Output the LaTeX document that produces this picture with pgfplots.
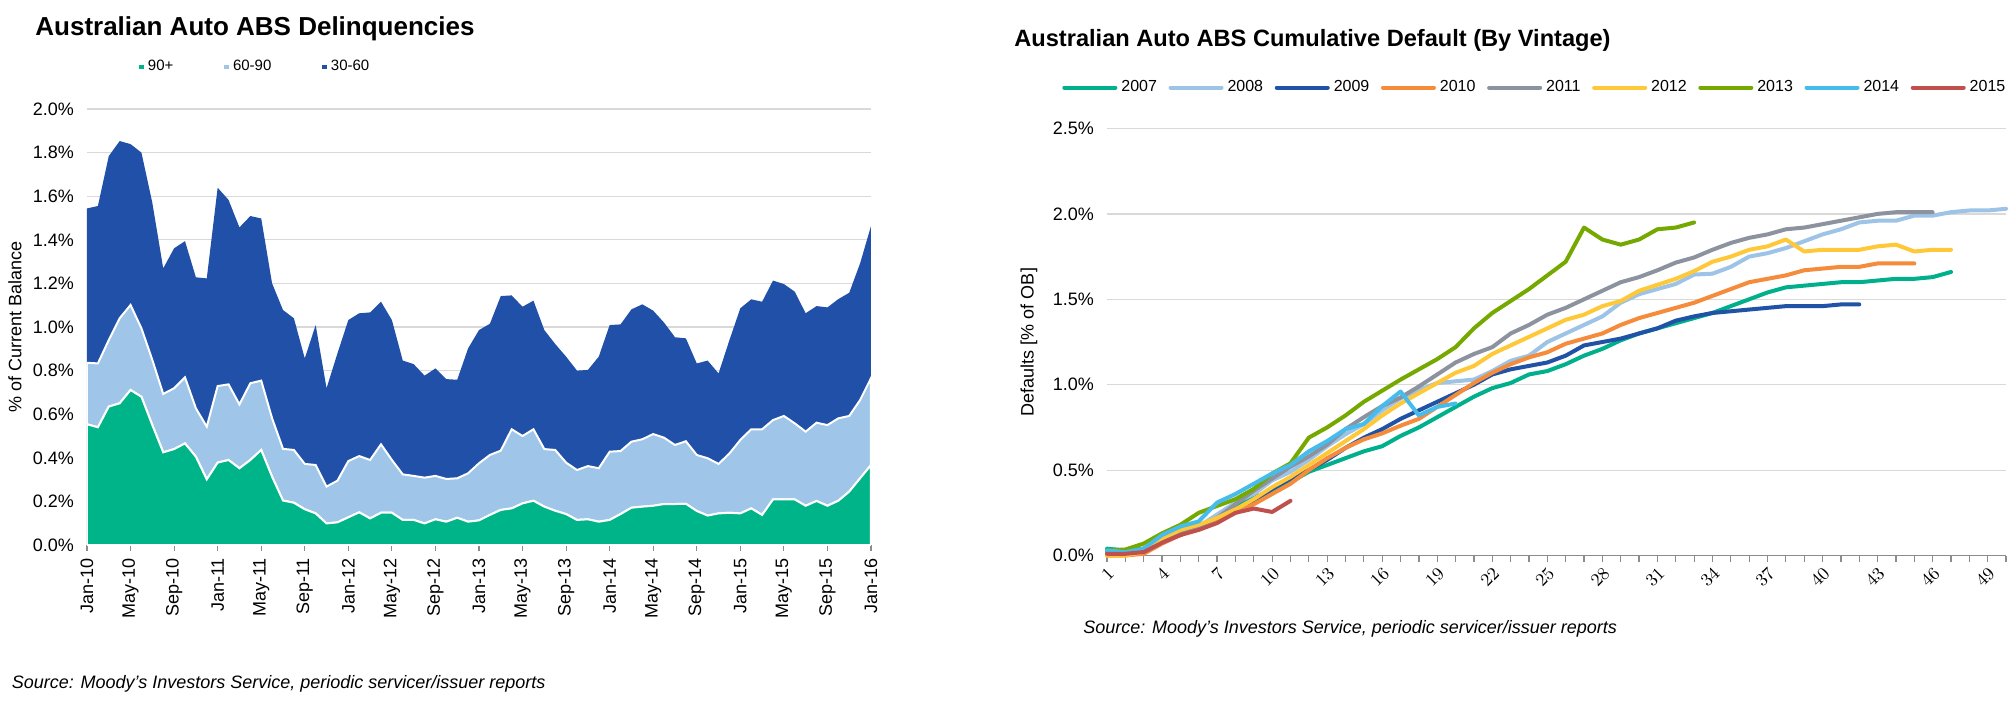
\documentclass[border=0pt]{standalone}
\usepackage{fontspec}
\setmainfont{Liberation Sans}
\usepackage{pgfplots}
\pgfplotsset{compat=1.18}
\usepackage{pgfplotstable}

\definecolor{c90}{HTML}{00B48A}
\definecolor{c60}{HTML}{9FC5E8}
\definecolor{c30}{HTML}{2150A8}
\definecolor{v07}{HTML}{00B08C}
\definecolor{v08}{HTML}{9DC3E6}
\definecolor{v09}{HTML}{2052A5}
\definecolor{v10}{HTML}{F58C3C}
\definecolor{v11}{HTML}{8C929E}
\definecolor{v12}{HTML}{FFC838}
\definecolor{v13}{HTML}{76A900}
\definecolor{v14}{HTML}{45BCEC}
\definecolor{v15}{HTML}{C0504D}

% i  90+  60-90  30-60
\pgfplotstableread{
i g a b
0 0.554 0.282 0.708
1 0.540 0.293 0.722
2 0.635 0.305 0.844
3 0.650 0.390 0.813
4 0.711 0.390 0.738
5 0.680 0.314 0.806
6 0.550 0.299 0.721
7 0.425 0.268 0.576
8 0.440 0.279 0.642
9 0.466 0.303 0.625
10 0.405 0.222 0.601
11 0.301 0.242 0.680
12 0.378 0.351 0.910
13 0.390 0.347 0.846
14 0.352 0.293 0.812
15 0.390 0.352 0.767
16 0.436 0.318 0.744
17 0.313 0.268 0.619
18 0.204 0.237 0.637
19 0.194 0.242 0.604
20 0.164 0.208 0.484
21 0.145 0.222 0.642
22 0.099 0.169 0.451
23 0.104 0.191 0.584
24 0.127 0.258 0.647
25 0.150 0.258 0.655
26 0.122 0.268 0.677
27 0.148 0.314 0.654
28 0.148 0.242 0.642
29 0.115 0.209 0.522
30 0.115 0.202 0.513
31 0.099 0.210 0.468
32 0.118 0.199 0.493
33 0.107 0.196 0.458
34 0.125 0.181 0.452
35 0.107 0.222 0.573
36 0.113 0.262 0.611
37 0.138 0.275 0.602
38 0.161 0.272 0.709
39 0.168 0.363 0.614
40 0.191 0.309 0.593
41 0.203 0.328 0.590
42 0.176 0.264 0.546
43 0.157 0.279 0.486
44 0.142 0.236 0.486
45 0.115 0.229 0.456
46 0.118 0.244 0.441
47 0.107 0.245 0.512
48 0.115 0.313 0.581
49 0.142 0.289 0.581
50 0.171 0.303 0.607
51 0.176 0.309 0.619
52 0.180 0.329 0.566
53 0.188 0.304 0.528
54 0.188 0.271 0.494
55 0.189 0.287 0.472
56 0.156 0.257 0.420
57 0.135 0.263 0.448
58 0.145 0.227 0.415
59 0.148 0.272 0.520
60 0.145 0.337 0.604
61 0.168 0.363 0.596
62 0.138 0.393 0.585
63 0.209 0.364 0.640
64 0.209 0.383 0.605
65 0.209 0.349 0.604
66 0.180 0.340 0.543
67 0.202 0.359 0.535
68 0.180 0.370 0.540
69 0.203 0.378 0.547
70 0.245 0.347 0.565
71 0.306 0.359 0.627
72 0.367 0.398 0.698
}\ldata

\pgfplotstableread{
m v
1 0.04
2 0.03
3 0.04
4 0.10
5 0.13
6 0.17
7 0.22
8 0.29
9 0.34
10 0.38
11 0.43
12 0.49
13 0.53
14 0.57
15 0.61
16 0.64
17 0.70
18 0.75
19 0.81
20 0.87
21 0.93
22 0.98
23 1.01
24 1.06
25 1.08
26 1.12
27 1.17
28 1.21
29 1.26
30 1.30
31 1.33
32 1.36
33 1.39
34 1.42
35 1.46
36 1.50
37 1.54
38 1.57
39 1.58
40 1.59
41 1.60
42 1.60
43 1.61
44 1.62
45 1.62
46 1.63
47 1.66
}\tA

\pgfplotstableread{
m v
1 0.02
2 0.02
3 0.03
4 0.10
5 0.14
6 0.17
7 0.24
8 0.31
9 0.36
10 0.44
11 0.49
12 0.56
13 0.64
14 0.71
15 0.77
16 0.85
17 0.92
18 0.97
19 1.01
20 1.02
21 1.03
22 1.08
23 1.14
24 1.17
25 1.25
26 1.30
27 1.35
28 1.40
29 1.48
30 1.53
31 1.56
32 1.59
33 1.645
34 1.65
35 1.69
36 1.75
37 1.77
38 1.80
39 1.84
40 1.88
41 1.91
42 1.95
43 1.96
44 1.96
45 1.99
46 1.99
47 2.01
48 2.02
49 2.02
50 2.03
}\tB

\pgfplotstableread{
m v
1 0.01
2 0.01
3 0.02
4 0.08
5 0.12
6 0.16
7 0.20
8 0.26
9 0.32
10 0.39
11 0.45
12 0.50
13 0.56
14 0.63
15 0.69
16 0.74
17 0.80
18 0.85
19 0.90
20 0.95
21 1.00
22 1.06
23 1.09
24 1.11
25 1.13
26 1.17
27 1.23
28 1.25
29 1.27
30 1.30
31 1.33
32 1.375
33 1.40
34 1.42
35 1.43
36 1.44
37 1.45
38 1.46
39 1.46
40 1.46
41 1.47
42 1.47
}\tC

\pgfplotstableread{
m v
1 0.00
2 0.00
3 0.01
4 0.07
5 0.12
6 0.16
7 0.20
8 0.25
9 0.30
10 0.36
11 0.42
12 0.50
13 0.57
14 0.63
15 0.68
16 0.715
17 0.76
18 0.80
19 0.87
20 0.94
21 1.01
22 1.07
23 1.12
24 1.16
25 1.19
26 1.24
27 1.27
28 1.30
29 1.35
30 1.39
31 1.42
32 1.45
33 1.48
34 1.52
35 1.56
36 1.60
37 1.62
38 1.64
39 1.67
40 1.68
41 1.69
42 1.69
43 1.71
44 1.71
45 1.71
}\tD

\pgfplotstableread{
m v
1 0.02
2 0.02
3 0.04
4 0.10
5 0.14
6 0.17
7 0.22
8 0.30
9 0.38
10 0.45
11 0.52
12 0.58
13 0.65
14 0.74
15 0.81
16 0.875
17 0.925
18 0.99
19 1.06
20 1.13
21 1.18
22 1.22
23 1.30
24 1.35
25 1.41
26 1.45
27 1.50
28 1.55
29 1.60
30 1.63
31 1.67
32 1.715
33 1.745
34 1.79
35 1.83
36 1.86
37 1.88
38 1.91
39 1.92
40 1.94
41 1.96
42 1.98
43 2.00
44 2.01
45 2.01
46 2.01
}\tE

\pgfplotstableread{
m v
1 0.00
2 0.00
3 0.02
4 0.10
5 0.15
6 0.18
7 0.22
8 0.27
9 0.33
10 0.40
11 0.46
12 0.53
13 0.60
14 0.67
15 0.74
16 0.82
17 0.89
18 0.95
19 1.01
20 1.07
21 1.11
22 1.18
23 1.23
24 1.28
25 1.33
26 1.38
27 1.41
28 1.46
29 1.49
30 1.55
31 1.585
32 1.62
33 1.665
34 1.72
35 1.75
36 1.79
37 1.81
38 1.85
39 1.78
40 1.79
41 1.79
42 1.79
43 1.81
44 1.82
45 1.78
46 1.79
47 1.79
}\tF

\pgfplotstableread{
m v
1 0.03
2 0.035
3 0.07
4 0.13
5 0.18
6 0.25
7 0.29
8 0.33
9 0.39
10 0.48
11 0.54
12 0.69
13 0.75
14 0.82
15 0.90
16 0.965
17 1.03
18 1.09
19 1.15
20 1.22
21 1.33
22 1.42
23 1.49
24 1.56
25 1.64
26 1.72
27 1.92
28 1.85
29 1.82
30 1.85
31 1.91
32 1.92
33 1.95
}\tG

\pgfplotstableread{
m v
1 0.03
2 0.02
3 0.04
4 0.12
5 0.17
6 0.20
7 0.31
8 0.36
9 0.42
10 0.48
11 0.53
12 0.61
13 0.67
14 0.74
15 0.77
16 0.875
17 0.96
18 0.82
19 0.87
20 0.89
}\tH

\pgfplotstableread{
m v
1 0.01
2 0.01
3 0.02
4 0.075
5 0.12
6 0.15
7 0.19
8 0.25
9 0.275
10 0.255
11 0.32
}\tI

\pgfplotsset{
  pct/.style={yticklabel={\pgfmathprintnumber[fixed,fixed zerofill,precision=1,assume math mode=true]{\tick}\%}},
  common/.style={
    scale only axis,
    axis x line*=bottom, axis y line*=left,
    y axis line style={draw=none},
    x axis line style={draw=black!45, line width=0.6pt},
    ytick style={draw=none},
    xtick style={draw=black!45, line width=0.6pt},
    tick align=outside,
    tick label style={font=\fontsize{9}{10}\selectfont},
    label style={font=\fontsize{9}{10}\selectfont},
    ymajorgrids,
    grid style={draw=black!15, line width=0.6pt},
    pct,
  },
}

\begin{document}
\begin{tikzpicture}
\useasboundingbox (0,0) rectangle (1008pt,-351pt);

% ---------------- Left: delinquencies (stacked areas)
\begin{axis}[common,
  at={(43.5pt,-272.5pt)}, anchor=south west,
  width=392pt, height=218pt,
  xmin=0, xmax=72, ymin=0, ymax=2.0,
  stack plots=y,
  xtick={0,4,...,72},
  xticklabels={Jan-10,May-10,Sep-10,Jan-11,May-11,Sep-11,Jan-12,May-12,Sep-12,Jan-13,May-13,Sep-13,Jan-14,May-14,Sep-14,Jan-15,May-15,Sep-15,Jan-16},
  xticklabel style={rotate=90, anchor=east},
  major tick length=3pt,
  ytick={0,0.2,...,2.01},
  ylabel={\% of Current Balance},
  ylabel style={at={(axis description cs:-0.0918,0.5)}, anchor=center},
  legend columns=3,
  legend style={at={(0.216,1.096)}, anchor=center, draw=none, fill=none,
    font=\fontsize{7.5}{9}\selectfont,
    /tikz/every even column/.append style={column sep=23.5pt}},
  legend image code/.code={\fill[#1,draw=none] (0pt,-1.1pt) rectangle (2.3pt,1.1pt);},
]
\addplot[fill=c90, draw=white, line width=1pt] table[x=i,y=g]{\ldata} \closedcycle;
\addlegendentry{90+}
\addplot[fill=c60, draw=white, line width=1pt] table[x=i,y=a]{\ldata} \closedcycle;
\addlegendentry{60-90}
\addplot[fill=c30, draw=none] table[x=i,y=b]{\ldata} \closedcycle;
\addlegendentry{30-60}
\end{axis}

% ---------------- Right: cumulative default by vintage
\begin{axis}[common,
  at={(553.5pt,-277.75pt)}, anchor=south west,
  width=449.5pt, height=213.5pt,
  xmin=1, xmax=50, ymin=0, ymax=2.5,
  clip=false,
  xtick={1,4,...,49},
  minor xtick={1,...,50},
  major tick length=3pt, minor tick length=3pt,
  minor tick style={draw=black!45, line width=0.6pt},
  xticklabel style={rotate=45, anchor=north east, inner sep=1.5pt},
  ytick={0,0.5,...,2.51},
  ylabel={Defaults [\% of OB]},
  ylabel style={at={(axis description cs:-0.0868,0.5)}, anchor=center},
  legend columns=9,
  legend style={at={(0.477,1.096)}, anchor=center, draw=none, fill=none,
    font=\fontsize{8}{9}\selectfont,
    /tikz/every even column/.append style={column sep=3.8pt}},
  legend image code/.code={\draw[#1, line width=2pt, line cap=round] (0pt,0pt) -- (25.5pt,0pt);},
  every axis plot/.append style={line width=2pt, line join=round, line cap=round, mark=none},
]
\addplot[v07] table[x=m,y=v]{\tA}; \addlegendentry{2007}
\addplot[v08] table[x=m,y=v]{\tB}; \addlegendentry{2008}
\addplot[v09] table[x=m,y=v]{\tC}; \addlegendentry{2009}
\addplot[v10] table[x=m,y=v]{\tD}; \addlegendentry{2010}
\addplot[v11] table[x=m,y=v]{\tE}; \addlegendentry{2011}
\addplot[v12] table[x=m,y=v]{\tF}; \addlegendentry{2012}
\addplot[v13] table[x=m,y=v]{\tG}; \addlegendentry{2013}
\addplot[v14] table[x=m,y=v]{\tH}; \addlegendentry{2014}
\addplot[v15] table[x=m,y=v]{\tI}; \addlegendentry{2015}
\end{axis}

% ---------------- Titles and sources
\node[anchor=base west, inner sep=0pt, font=\bfseries\fontsize{13}{15}\selectfont] at (17.5pt,-17.5pt) {Australian Auto ABS Delinquencies};
\node[anchor=base west, inner sep=0pt, font=\bfseries\fontsize{11.8}{14}\selectfont] at (507pt,-23pt) {Australian Auto ABS Cumulative Default (By Vintage)};
\node[anchor=base west, inner sep=0pt, font=\itshape\fontsize{9}{11}\selectfont] at (5.75pt,-344pt) {Source: Moody's Investors Service, periodic servicer/issuer reports};
\node[anchor=base west, inner sep=0pt, font=\itshape\fontsize{9}{11}\selectfont] at (541.5pt,-316.5pt) {Source: Moody's Investors Service, periodic servicer/issuer reports};
\end{tikzpicture}
\end{document}
